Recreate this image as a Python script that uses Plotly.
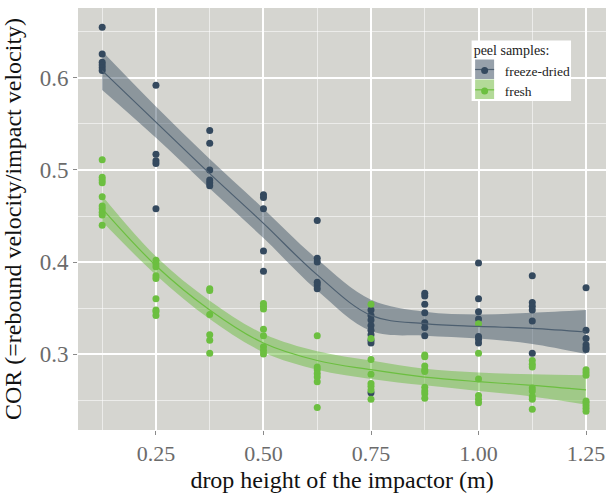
import plotly.graph_objects as go

# drop heights (m)
heights = [0.125, 0.25, 0.375, 0.5, 0.625, 0.75, 0.875, 1.0, 1.125, 1.25]

# measured COR per drop height
freeze_dried_cor = [
    [0.655, 0.626, 0.617, 0.614, 0.611, 0.608],
    [0.592, 0.517, 0.510, 0.507, 0.458],
    [0.543, 0.529, 0.500, 0.489, 0.486, 0.483],
    [0.473, 0.470, 0.458, 0.412, 0.390],
    [0.445, 0.404, 0.400, 0.378, 0.375, 0.371],
    [0.348, 0.342, 0.337, 0.331, 0.326, 0.321, 0.315, 0.312, 0.258],
    [0.366, 0.363, 0.354, 0.345, 0.334, 0.329, 0.320],
    [0.399, 0.360, 0.346, 0.338, 0.319, 0.316, 0.312],
    [0.385, 0.356, 0.352, 0.348, 0.336, 0.301],
    [0.372, 0.326, 0.317, 0.310, 0.307, 0.305],
]
fresh_cor = [
    [0.511, 0.492, 0.489, 0.486, 0.471, 0.461, 0.458, 0.454, 0.451, 0.440],
    [0.402, 0.398, 0.395, 0.385, 0.382, 0.360, 0.348, 0.346, 0.342],
    [0.371, 0.369, 0.343, 0.321, 0.315, 0.301],
    [0.355, 0.352, 0.349, 0.327, 0.320, 0.308, 0.304, 0.300],
    [0.320, 0.286, 0.283, 0.279, 0.275, 0.270, 0.242],
    [0.354, 0.317, 0.294, 0.278, 0.268, 0.265, 0.261, 0.251],
    [0.299, 0.297, 0.287, 0.283, 0.281, 0.264, 0.260, 0.257, 0.252],
    [0.333, 0.301, 0.273, 0.255, 0.251, 0.247],
    [0.293, 0.289, 0.286, 0.263, 0.260, 0.254, 0.251, 0.240],
    [0.283, 0.280, 0.277, 0.249, 0.247, 0.244, 0.241, 0.238],
]

# smoothed fits and confidence bands
fd_fit = [0.608, 0.552, 0.496, 0.442, 0.386, 0.342, 0.333, 0.330, 0.328, 0.324]
fd_upper = [0.629, 0.569, 0.512, 0.458, 0.403, 0.359, 0.346, 0.343, 0.345, 0.348]
fd_lower = [0.587, 0.535, 0.480, 0.426, 0.369, 0.325, 0.320, 0.317, 0.311, 0.300]
fr_fit = [0.458, 0.396, 0.348, 0.312, 0.293, 0.283, 0.275, 0.270, 0.266, 0.261]
fr_upper = [0.472, 0.406, 0.358, 0.322, 0.303, 0.293, 0.284, 0.280, 0.278, 0.277]
fr_lower = [0.444, 0.386, 0.338, 0.302, 0.283, 0.273, 0.266, 0.260, 0.254, 0.245]

x_ticks = [0.25, 0.50, 0.75, 1.00, 1.25]
x_tick_text = ["0.25", "0.50", "0.75", "1.00", "1.25"]
y_ticks = [0.3, 0.4, 0.5, 0.6]
y_tick_text = ["0.3", "0.4", "0.5", "0.6"]

DARK = "#34495e"
GREEN = "#6cbf40"
DARK_LINE = "#4d5f70"
FONT = "Liberation Serif"
NB = "\u00a0"


def flatten(groups):
    xs, ys = [], []
    for h, vals in zip(heights, groups):
        for v in vals:
            xs.append(h)
            ys.append(v)
    return xs, ys


fig = go.Figure()

for lower, upper, fill in [
    (fd_lower, fd_upper, "rgba(52,73,94,0.45)"),
    (fr_lower, fr_upper, "rgba(108,190,64,0.5)"),
]:
    fig.add_trace(go.Scatter(x=heights, y=lower, mode="lines", line=dict(width=0, shape="spline"),
                             showlegend=False, hoverinfo="skip"))
    fig.add_trace(go.Scatter(x=heights, y=upper, mode="lines", line=dict(width=0, shape="spline"),
                             fill="tonexty", fillcolor=fill, showlegend=False, hoverinfo="skip"))

fx, fy = flatten(freeze_dried_cor)
gx, gy = flatten(fresh_cor)
fig.add_trace(go.Scatter(x=fx, y=fy, mode="markers", marker=dict(color=DARK, size=7),
                         showlegend=False, legendgroup="fd"))
fig.add_trace(go.Scatter(x=gx, y=gy, mode="markers", marker=dict(color=GREEN, size=7),
                         showlegend=False, legendgroup="fr"))

fig.add_trace(go.Scatter(x=heights, y=fd_fit, mode="lines", line=dict(color=DARK_LINE, width=1.2, shape="spline"),
                         showlegend=False, legendgroup="fd"))
fig.add_trace(go.Scatter(x=heights, y=fr_fit, mode="lines", line=dict(color=GREEN, width=1.2, shape="spline"),
                         showlegend=False, legendgroup="fr"))

# legend entries
fig.add_trace(go.Scatter(x=[None], y=[None], mode="markers", name="freeze-dried",
                         marker=dict(color=DARK, size=7), legendgroup="fd"))
fig.add_trace(go.Scatter(x=[None], y=[None], mode="markers", name="fresh",
                         marker=dict(color=GREEN, size=7), legendgroup="fr"))

# legend backdrop and key boxes (plot area: x 77.5..606 px, y 8..430 px)
W, H, L, T = 528.5, 422.0, 77.5, 8.0


def px(x):
    return (x - L) / W


def py(y):
    return (T + H - y) / H


shapes = [
    dict(type="rect", xref="paper", yref="paper", x0=px(471.5), x1=px(571), y0=py(101), y1=py(40.5),
         fillcolor="white", line=dict(width=0), layer="above"),
    dict(type="rect", xref="paper", yref="paper", x0=px(475), x1=px(494), y0=py(79), y1=py(59.5),
         fillcolor="#97a1ab", line=dict(width=0), layer="above"),
    dict(type="line", xref="paper", yref="paper", x0=px(475), x1=px(494), y0=py(69.5), y1=py(69.5),
         line=dict(color=DARK_LINE, width=1.2), layer="above"),
    dict(type="rect", xref="paper", yref="paper", x0=px(475), x1=px(494), y0=py(99), y1=py(79.5),
         fillcolor="#b3da98", line=dict(width=0), layer="above"),
    dict(type="line", xref="paper", yref="paper", x0=px(475), x1=px(494), y0=py(89.8), y1=py(89.8),
         line=dict(color=GREEN, width=1.2), layer="above"),
]

grid_major = "#ffffff"
fig.update_layout(
    width=606, height=493,
    margin=dict(l=77.5, r=0, t=8, b=63),
    paper_bgcolor="white",
    plot_bgcolor="#d5d5d0",
    font=dict(family=FONT, color="#222"),
    showlegend=True,
    shapes=shapes,
    legend=dict(
        title=dict(text=NB * 2 + "peel samples:", font=dict(size=14, family=FONT, color="#222")),
        font=dict(size=13.5, family=FONT, color="#222"),
        bgcolor="rgba(0,0,0,0)",
        x=px(464.5), y=py(37), xanchor="left", yanchor="top",
        itemwidth=30, tracegroupgap=0,
    ),
    xaxis=dict(
        range=[0.06875, 1.2964],
        automargin=False,
        tickvals=x_ticks, ticktext=x_tick_text,
        tickfont=dict(size=22, family=FONT, color="#6b6b6b"),
        ticks="outside", ticklen=4, tickcolor="#8a8a8a", tickwidth=1,
        showgrid=True, gridcolor=grid_major, gridwidth=1.6,
        minor=dict(tickvals=[0.125, 0.375, 0.625, 0.875, 1.125], showgrid=True,
                   gridcolor="rgba(255,255,255,0.55)", gridwidth=0.8, ticks=""),
        zeroline=False, showline=False,
        title=dict(text="drop height of the impactor (m)", font=dict(size=24, family=FONT, color="#111")),
    ),
    yaxis=dict(
        range=[0.2175, 0.676],
        automargin=False,
        tickvals=y_ticks, ticktext=y_tick_text,
        tickfont=dict(size=23, family=FONT, color="#6b6b6b"),
        ticks="outside", ticklen=4, tickcolor="#8a8a8a", tickwidth=1,
        showgrid=True, gridcolor=grid_major, gridwidth=1.6,
        minor=dict(tickvals=[0.25, 0.35, 0.45, 0.55, 0.65], showgrid=True,
                   gridcolor="rgba(255,255,255,0.55)", gridwidth=0.8, ticks=""),
        zeroline=False, showline=False,
        title=dict(text=NB * 4 + "COR (=rebound velocity/impact velocity)",
                   font=dict(size=24, family=FONT, color="#111")),
    ),
)

fig.write_html("out.html", config={"displayModeBar": False},
               post_script="document.body.style.margin='0';")
